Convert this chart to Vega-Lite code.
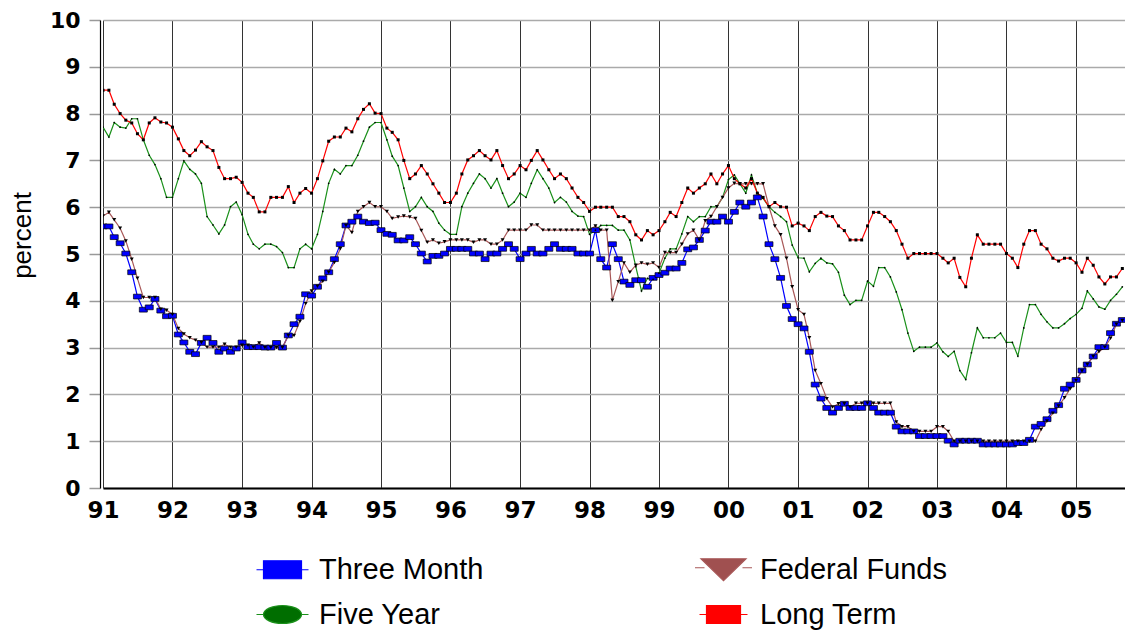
{
  "$schema": "https://vega.github.io/schema/vega-lite/v6.json",
  "width": 1022,
  "height": 468,
  "autosize": {"type": "none"},
  "padding": {"left": 103, "top": 20, "right": 0, "bottom": 144},
  "background": "white",
  "config": {"view": {"stroke": null}, "font": "Liberation Sans"},
  "data": {
    "format": {"parse": {"d": "utc:'%Y-%m'"}},
    "values": [
      {"d":"1991-01","Three Month":5.59,"Five Year":7.71,"Federal Funds":5.81,"Long Term":8.5},
      {"d":"1991-02","Three Month":5.59,"Five Year":7.5,"Federal Funds":5.89,"Long Term":8.5},
      {"d":"1991-03","Three Month":5.36,"Five Year":7.81,"Federal Funds":5.73,"Long Term":8.2},
      {"d":"1991-04","Three Month":5.23,"Five Year":7.71,"Federal Funds":5.55,"Long Term":8.0},
      {"d":"1991-05","Three Month":5.01,"Five Year":7.69,"Federal Funds":5.28,"Long Term":7.86},
      {"d":"1991-06","Three Month":4.61,"Five Year":7.89,"Federal Funds":4.89,"Long Term":7.8},
      {"d":"1991-07","Three Month":4.09,"Five Year":7.89,"Federal Funds":4.48,"Long Term":7.57},
      {"d":"1991-08","Three Month":3.81,"Five Year":7.44,"Federal Funds":4.07,"Long Term":7.44},
      {"d":"1991-09","Three Month":3.86,"Five Year":7.11,"Federal Funds":4.07,"Long Term":7.8},
      {"d":"1991-10","Three Month":4.04,"Five Year":6.91,"Federal Funds":4.07,"Long Term":7.91},
      {"d":"1991-11","Three Month":3.79,"Five Year":6.61,"Federal Funds":3.82,"Long Term":7.82},
      {"d":"1991-12","Three Month":3.67,"Five Year":6.21,"Federal Funds":3.8,"Long Term":7.8},
      {"d":"1992-01","Three Month":3.68,"Five Year":6.21,"Federal Funds":3.71,"Long Term":7.71},
      {"d":"1992-02","Three Month":3.28,"Five Year":6.61,"Federal Funds":3.41,"Long Term":7.46},
      {"d":"1992-03","Three Month":3.11,"Five Year":6.99,"Federal Funds":3.29,"Long Term":7.21},
      {"d":"1992-04","Three Month":2.91,"Five Year":6.81,"Federal Funds":3.21,"Long Term":7.1},
      {"d":"1992-05","Three Month":2.86,"Five Year":6.71,"Federal Funds":3.16,"Long Term":7.22},
      {"d":"1992-06","Three Month":3.1,"Five Year":6.51,"Federal Funds":3.11,"Long Term":7.4},
      {"d":"1992-07","Three Month":3.21,"Five Year":5.8,"Federal Funds":3.01,"Long Term":7.29},
      {"d":"1992-08","Three Month":3.1,"Five Year":5.62,"Federal Funds":3.01,"Long Term":7.21},
      {"d":"1992-09","Three Month":2.91,"Five Year":5.43,"Federal Funds":3.01,"Long Term":6.85},
      {"d":"1992-10","Three Month":2.98,"Five Year":5.62,"Federal Funds":3.07,"Long Term":6.61},
      {"d":"1992-11","Three Month":2.91,"Five Year":6.01,"Federal Funds":3.01,"Long Term":6.61},
      {"d":"1992-12","Three Month":2.98,"Five Year":6.11,"Federal Funds":3.01,"Long Term":6.64},
      {"d":"1993-01","Three Month":3.11,"Five Year":5.84,"Federal Funds":3.05,"Long Term":6.53},
      {"d":"1993-02","Three Month":3.01,"Five Year":5.42,"Federal Funds":3.05,"Long Term":6.3},
      {"d":"1993-03","Three Month":3.01,"Five Year":5.21,"Federal Funds":3.01,"Long Term":6.21},
      {"d":"1993-04","Three Month":3.01,"Five Year":5.11,"Federal Funds":3.1,"Long Term":5.9},
      {"d":"1993-05","Three Month":3.0,"Five Year":5.21,"Federal Funds":3.0,"Long Term":5.9},
      {"d":"1993-06","Three Month":3.0,"Five Year":5.21,"Federal Funds":3.0,"Long Term":6.21},
      {"d":"1993-07","Three Month":3.1,"Five Year":5.16,"Federal Funds":3.0,"Long Term":6.21},
      {"d":"1993-08","Three Month":3.0,"Five Year":5.03,"Federal Funds":3.0,"Long Term":6.21},
      {"d":"1993-09","Three Month":3.26,"Five Year":4.71,"Federal Funds":3.26,"Long Term":6.44},
      {"d":"1993-10","Three Month":3.5,"Five Year":4.71,"Federal Funds":3.26,"Long Term":6.1},
      {"d":"1993-11","Three Month":3.66,"Five Year":5.11,"Federal Funds":3.56,"Long Term":6.3},
      {"d":"1993-12","Three Month":4.14,"Five Year":5.21,"Federal Funds":3.94,"Long Term":6.4},
      {"d":"1994-01","Three Month":4.11,"Five Year":5.11,"Federal Funds":4.21,"Long Term":6.3},
      {"d":"1994-02","Three Month":4.3,"Five Year":5.42,"Federal Funds":4.31,"Long Term":6.61},
      {"d":"1994-03","Three Month":4.48,"Five Year":5.91,"Federal Funds":4.42,"Long Term":6.99},
      {"d":"1994-04","Three Month":4.61,"Five Year":6.51,"Federal Funds":4.61,"Long Term":7.41},
      {"d":"1994-05","Three Month":4.89,"Five Year":6.81,"Federal Funds":4.82,"Long Term":7.5},
      {"d":"1994-06","Three Month":5.21,"Five Year":6.71,"Federal Funds":5.11,"Long Term":7.5},
      {"d":"1994-07","Three Month":5.61,"Five Year":6.89,"Federal Funds":5.61,"Long Term":7.69},
      {"d":"1994-08","Three Month":5.69,"Five Year":6.89,"Federal Funds":5.46,"Long Term":7.61},
      {"d":"1994-09","Three Month":5.8,"Five Year":7.11,"Federal Funds":5.91,"Long Term":7.89},
      {"d":"1994-10","Three Month":5.69,"Five Year":7.41,"Federal Funds":6.01,"Long Term":8.09},
      {"d":"1994-11","Three Month":5.66,"Five Year":7.71,"Federal Funds":6.1,"Long Term":8.21},
      {"d":"1994-12","Three Month":5.67,"Five Year":7.81,"Federal Funds":6.01,"Long Term":8.01},
      {"d":"1995-01","Three Month":5.51,"Five Year":7.81,"Federal Funds":6.01,"Long Term":8.0},
      {"d":"1995-02","Three Month":5.43,"Five Year":7.44,"Federal Funds":5.91,"Long Term":7.69},
      {"d":"1995-03","Three Month":5.41,"Five Year":7.09,"Federal Funds":5.76,"Long Term":7.6},
      {"d":"1995-04","Three Month":5.29,"Five Year":6.89,"Federal Funds":5.79,"Long Term":7.44},
      {"d":"1995-05","Three Month":5.29,"Five Year":6.41,"Federal Funds":5.81,"Long Term":7.0},
      {"d":"1995-06","Three Month":5.36,"Five Year":5.91,"Federal Funds":5.79,"Long Term":6.61},
      {"d":"1995-07","Three Month":5.21,"Five Year":6.01,"Federal Funds":5.76,"Long Term":6.71},
      {"d":"1995-08","Three Month":5.01,"Five Year":6.21,"Federal Funds":5.5,"Long Term":6.89},
      {"d":"1995-09","Three Month":4.84,"Five Year":6.01,"Federal Funds":5.25,"Long Term":6.71},
      {"d":"1995-10","Three Month":4.96,"Five Year":5.91,"Federal Funds":5.3,"Long Term":6.5},
      {"d":"1995-11","Three Month":4.96,"Five Year":5.66,"Federal Funds":5.23,"Long Term":6.3},
      {"d":"1995-12","Three Month":5.01,"Five Year":5.51,"Federal Funds":5.26,"Long Term":6.1},
      {"d":"1996-01","Three Month":5.11,"Five Year":5.42,"Federal Funds":5.3,"Long Term":6.1},
      {"d":"1996-02","Three Month":5.11,"Five Year":5.42,"Federal Funds":5.3,"Long Term":6.3},
      {"d":"1996-03","Three Month":5.11,"Five Year":6.01,"Federal Funds":5.3,"Long Term":6.71},
      {"d":"1996-04","Three Month":5.11,"Five Year":6.3,"Federal Funds":5.3,"Long Term":7.01},
      {"d":"1996-05","Three Month":5.01,"Five Year":6.51,"Federal Funds":5.25,"Long Term":7.1},
      {"d":"1996-06","Three Month":5.01,"Five Year":6.71,"Federal Funds":5.3,"Long Term":7.21},
      {"d":"1996-07","Three Month":4.89,"Five Year":6.61,"Federal Funds":5.3,"Long Term":7.1},
      {"d":"1996-08","Three Month":5.01,"Five Year":6.41,"Federal Funds":5.21,"Long Term":7.01},
      {"d":"1996-09","Three Month":5.01,"Five Year":6.61,"Federal Funds":5.21,"Long Term":7.21},
      {"d":"1996-10","Three Month":5.11,"Five Year":6.3,"Federal Funds":5.3,"Long Term":6.89},
      {"d":"1996-11","Three Month":5.21,"Five Year":6.01,"Federal Funds":5.51,"Long Term":6.61},
      {"d":"1996-12","Three Month":5.11,"Five Year":6.11,"Federal Funds":5.51,"Long Term":6.71},
      {"d":"1997-01","Three Month":4.89,"Five Year":6.3,"Federal Funds":5.51,"Long Term":6.89},
      {"d":"1997-02","Three Month":5.01,"Five Year":6.21,"Federal Funds":5.51,"Long Term":6.8},
      {"d":"1997-03","Three Month":5.11,"Five Year":6.51,"Federal Funds":5.62,"Long Term":7.0},
      {"d":"1997-04","Three Month":5.01,"Five Year":6.8,"Federal Funds":5.62,"Long Term":7.21},
      {"d":"1997-05","Three Month":5.01,"Five Year":6.61,"Federal Funds":5.51,"Long Term":7.01},
      {"d":"1997-06","Three Month":5.11,"Five Year":6.41,"Federal Funds":5.51,"Long Term":6.8},
      {"d":"1997-07","Three Month":5.21,"Five Year":6.1,"Federal Funds":5.51,"Long Term":6.61},
      {"d":"1997-08","Three Month":5.11,"Five Year":6.21,"Federal Funds":5.51,"Long Term":6.71},
      {"d":"1997-09","Three Month":5.11,"Five Year":6.11,"Federal Funds":5.51,"Long Term":6.61},
      {"d":"1997-10","Three Month":5.11,"Five Year":5.91,"Federal Funds":5.51,"Long Term":6.41},
      {"d":"1997-11","Three Month":5.01,"Five Year":5.81,"Federal Funds":5.51,"Long Term":6.21},
      {"d":"1997-12","Three Month":5.01,"Five Year":5.8,"Federal Funds":5.51,"Long Term":6.1},
      {"d":"1998-01","Three Month":5.01,"Five Year":5.42,"Federal Funds":5.51,"Long Term":5.91},
      {"d":"1998-02","Three Month":5.51,"Five Year":5.51,"Federal Funds":5.6,"Long Term":6.0},
      {"d":"1998-03","Three Month":4.89,"Five Year":5.61,"Federal Funds":5.51,"Long Term":6.0},
      {"d":"1998-04","Three Month":4.71,"Five Year":5.61,"Federal Funds":5.51,"Long Term":6.0},
      {"d":"1998-05","Three Month":5.21,"Five Year":5.61,"Federal Funds":4.01,"Long Term":6.0},
      {"d":"1998-06","Three Month":4.89,"Five Year":5.51,"Federal Funds":4.41,"Long Term":5.8},
      {"d":"1998-07","Three Month":4.41,"Five Year":5.51,"Federal Funds":4.81,"Long Term":5.8},
      {"d":"1998-08","Three Month":4.34,"Five Year":5.3,"Federal Funds":4.61,"Long Term":5.69},
      {"d":"1998-09","Three Month":4.44,"Five Year":4.73,"Federal Funds":4.76,"Long Term":5.41},
      {"d":"1998-10","Three Month":4.44,"Five Year":4.21,"Federal Funds":4.81,"Long Term":5.3},
      {"d":"1998-11","Three Month":4.3,"Five Year":4.48,"Federal Funds":4.78,"Long Term":5.5},
      {"d":"1998-12","Three Month":4.49,"Five Year":4.46,"Federal Funds":4.81,"Long Term":5.41},
      {"d":"1999-01","Three Month":4.55,"Five Year":4.59,"Federal Funds":4.71,"Long Term":5.5},
      {"d":"1999-02","Three Month":4.6,"Five Year":4.91,"Federal Funds":5.03,"Long Term":5.69},
      {"d":"1999-03","Three Month":4.69,"Five Year":5.11,"Federal Funds":5.03,"Long Term":5.89},
      {"d":"1999-04","Three Month":4.69,"Five Year":5.11,"Federal Funds":5.03,"Long Term":5.8},
      {"d":"1999-05","Three Month":4.81,"Five Year":5.43,"Federal Funds":5.21,"Long Term":6.1},
      {"d":"1999-06","Three Month":5.1,"Five Year":5.8,"Federal Funds":5.43,"Long Term":6.41},
      {"d":"1999-07","Three Month":5.14,"Five Year":5.69,"Federal Funds":5.51,"Long Term":6.3},
      {"d":"1999-08","Three Month":5.3,"Five Year":5.8,"Federal Funds":5.3,"Long Term":6.41},
      {"d":"1999-09","Three Month":5.5,"Five Year":5.8,"Federal Funds":5.71,"Long Term":6.5},
      {"d":"1999-10","Three Month":5.69,"Five Year":6.01,"Federal Funds":5.8,"Long Term":6.71},
      {"d":"1999-11","Three Month":5.69,"Five Year":6.01,"Federal Funds":6.01,"Long Term":6.5},
      {"d":"1999-12","Three Month":5.8,"Five Year":6.21,"Federal Funds":6.21,"Long Term":6.71},
      {"d":"2000-01","Three Month":5.69,"Five Year":6.59,"Federal Funds":6.41,"Long Term":6.89},
      {"d":"2000-02","Three Month":5.9,"Five Year":6.69,"Federal Funds":6.51,"Long Term":6.61},
      {"d":"2000-03","Three Month":6.1,"Five Year":6.5,"Federal Funds":6.5,"Long Term":6.5},
      {"d":"2000-04","Three Month":6.01,"Five Year":6.3,"Federal Funds":6.5,"Long Term":6.41},
      {"d":"2000-05","Three Month":6.1,"Five Year":6.69,"Federal Funds":6.5,"Long Term":6.61},
      {"d":"2000-06","Three Month":6.21,"Five Year":6.3,"Federal Funds":6.5,"Long Term":6.3},
      {"d":"2000-07","Three Month":5.8,"Five Year":6.19,"Federal Funds":6.5,"Long Term":6.21},
      {"d":"2000-08","Three Month":5.21,"Five Year":6.01,"Federal Funds":6.01,"Long Term":6.01},
      {"d":"2000-09","Three Month":4.89,"Five Year":5.89,"Federal Funds":5.6,"Long Term":6.1},
      {"d":"2000-10","Three Month":4.49,"Five Year":5.8,"Federal Funds":5.41,"Long Term":6.01},
      {"d":"2000-11","Three Month":3.89,"Five Year":5.69,"Federal Funds":4.91,"Long Term":6.0},
      {"d":"2000-12","Three Month":3.61,"Five Year":5.19,"Federal Funds":4.3,"Long Term":5.6},
      {"d":"2001-01","Three Month":3.5,"Five Year":4.92,"Federal Funds":3.81,"Long Term":5.66},
      {"d":"2001-02","Three Month":3.41,"Five Year":4.91,"Federal Funds":3.71,"Long Term":5.6},
      {"d":"2001-03","Three Month":2.91,"Five Year":4.62,"Federal Funds":3.21,"Long Term":5.5},
      {"d":"2001-04","Three Month":2.21,"Five Year":4.8,"Federal Funds":2.51,"Long Term":5.8},
      {"d":"2001-05","Three Month":1.91,"Five Year":4.91,"Federal Funds":2.23,"Long Term":5.89},
      {"d":"2001-06","Three Month":1.71,"Five Year":4.81,"Federal Funds":1.91,"Long Term":5.81},
      {"d":"2001-07","Three Month":1.61,"Five Year":4.79,"Federal Funds":1.73,"Long Term":5.8},
      {"d":"2001-08","Three Month":1.71,"Five Year":4.61,"Federal Funds":1.8,"Long Term":5.6},
      {"d":"2001-09","Three Month":1.8,"Five Year":4.12,"Federal Funds":1.8,"Long Term":5.5},
      {"d":"2001-10","Three Month":1.71,"Five Year":3.92,"Federal Funds":1.73,"Long Term":5.3},
      {"d":"2001-11","Three Month":1.71,"Five Year":4.01,"Federal Funds":1.81,"Long Term":5.3},
      {"d":"2001-12","Three Month":1.71,"Five Year":4.01,"Federal Funds":1.81,"Long Term":5.3},
      {"d":"2002-01","Three Month":1.81,"Five Year":4.42,"Federal Funds":1.81,"Long Term":5.6},
      {"d":"2002-02","Three Month":1.71,"Five Year":4.31,"Federal Funds":1.81,"Long Term":5.89},
      {"d":"2002-03","Three Month":1.61,"Five Year":4.71,"Federal Funds":1.81,"Long Term":5.89},
      {"d":"2002-04","Three Month":1.61,"Five Year":4.71,"Federal Funds":1.81,"Long Term":5.8},
      {"d":"2002-05","Three Month":1.61,"Five Year":4.51,"Federal Funds":1.81,"Long Term":5.69},
      {"d":"2002-06","Three Month":1.31,"Five Year":4.19,"Federal Funds":1.41,"Long Term":5.5},
      {"d":"2002-07","Three Month":1.21,"Five Year":3.81,"Federal Funds":1.31,"Long Term":5.21},
      {"d":"2002-08","Three Month":1.21,"Five Year":3.31,"Federal Funds":1.31,"Long Term":4.91},
      {"d":"2002-09","Three Month":1.21,"Five Year":2.92,"Federal Funds":1.21,"Long Term":5.01},
      {"d":"2002-10","Three Month":1.11,"Five Year":3.01,"Federal Funds":1.21,"Long Term":5.01},
      {"d":"2002-11","Three Month":1.11,"Five Year":3.01,"Federal Funds":1.21,"Long Term":5.01},
      {"d":"2002-12","Three Month":1.11,"Five Year":3.01,"Federal Funds":1.21,"Long Term":5.01},
      {"d":"2003-01","Three Month":1.11,"Five Year":3.1,"Federal Funds":1.31,"Long Term":5.01},
      {"d":"2003-02","Three Month":1.11,"Five Year":2.91,"Federal Funds":1.31,"Long Term":4.91},
      {"d":"2003-03","Three Month":1.01,"Five Year":2.81,"Federal Funds":1.21,"Long Term":4.81},
      {"d":"2003-04","Three Month":0.93,"Five Year":2.92,"Federal Funds":1.0,"Long Term":4.91},
      {"d":"2003-05","Three Month":1.01,"Five Year":2.51,"Federal Funds":1.0,"Long Term":4.5},
      {"d":"2003-06","Three Month":1.01,"Five Year":2.32,"Federal Funds":1.0,"Long Term":4.3},
      {"d":"2003-07","Three Month":1.01,"Five Year":2.89,"Federal Funds":1.0,"Long Term":4.91},
      {"d":"2003-08","Three Month":1.01,"Five Year":3.42,"Federal Funds":1.0,"Long Term":5.41},
      {"d":"2003-09","Three Month":0.93,"Five Year":3.21,"Federal Funds":1.0,"Long Term":5.21},
      {"d":"2003-10","Three Month":0.93,"Five Year":3.21,"Federal Funds":1.0,"Long Term":5.21},
      {"d":"2003-11","Three Month":0.93,"Five Year":3.21,"Federal Funds":1.0,"Long Term":5.21},
      {"d":"2003-12","Three Month":0.93,"Five Year":3.31,"Federal Funds":1.0,"Long Term":5.21},
      {"d":"2004-01","Three Month":0.93,"Five Year":3.11,"Federal Funds":1.0,"Long Term":5.01},
      {"d":"2004-02","Three Month":0.93,"Five Year":3.11,"Federal Funds":1.0,"Long Term":4.91},
      {"d":"2004-03","Three Month":0.96,"Five Year":2.82,"Federal Funds":1.0,"Long Term":4.71},
      {"d":"2004-04","Three Month":0.96,"Five Year":3.42,"Federal Funds":1.0,"Long Term":5.21},
      {"d":"2004-05","Three Month":1.03,"Five Year":3.92,"Federal Funds":1.0,"Long Term":5.5},
      {"d":"2004-06","Three Month":1.31,"Five Year":3.92,"Federal Funds":1.0,"Long Term":5.5},
      {"d":"2004-07","Three Month":1.37,"Five Year":3.71,"Federal Funds":1.25,"Long Term":5.21},
      {"d":"2004-08","Three Month":1.47,"Five Year":3.55,"Federal Funds":1.43,"Long Term":5.11},
      {"d":"2004-09","Three Month":1.65,"Five Year":3.42,"Federal Funds":1.6,"Long Term":4.91},
      {"d":"2004-10","Three Month":1.77,"Five Year":3.42,"Federal Funds":1.75,"Long Term":4.85},
      {"d":"2004-11","Three Month":2.12,"Five Year":3.51,"Federal Funds":1.93,"Long Term":4.91},
      {"d":"2004-12","Three Month":2.21,"Five Year":3.62,"Federal Funds":2.12,"Long Term":4.91},
      {"d":"2005-01","Three Month":2.31,"Five Year":3.71,"Federal Funds":2.3,"Long Term":4.81},
      {"d":"2005-02","Three Month":2.51,"Five Year":3.84,"Federal Funds":2.5,"Long Term":4.61},
      {"d":"2005-03","Three Month":2.64,"Five Year":4.21,"Federal Funds":2.64,"Long Term":4.91},
      {"d":"2005-04","Three Month":2.81,"Five Year":4.04,"Federal Funds":2.81,"Long Term":4.76},
      {"d":"2005-05","Three Month":3.01,"Five Year":3.87,"Federal Funds":2.91,"Long Term":4.51},
      {"d":"2005-06","Three Month":3.01,"Five Year":3.82,"Federal Funds":3.01,"Long Term":4.36},
      {"d":"2005-07","Three Month":3.31,"Five Year":4.01,"Federal Funds":3.2,"Long Term":4.51},
      {"d":"2005-08","Three Month":3.51,"Five Year":4.14,"Federal Funds":3.5,"Long Term":4.51},
      {"d":"2005-09","Three Month":3.59,"Five Year":4.3,"Federal Funds":3.58,"Long Term":4.69}
    ]
  },
  "encoding": {
    "x": {
      "field": "d",
      "type": "temporal",
      "title": null,
      "scale": {
        "type": "utc",
        "domain": [
          {"year": 1991, "month": 1, "date": 1, "utc": true},
          {"year": 2005, "month": 9, "date": 15, "utc": true}
        ]
      },
      "axis": {
        "format": "%y",
        "tickCount": {"interval": "year", "step": 1},
        "grid": true,
        "gridColor": "#333333",
        "gridWidth": 1,
        "ticks": false,
        "tickSize": 0,
        "domain": true,
        "domainColor": "black",
        "domainWidth": 2,
        "labelFont": "DejaVu Sans",
        "labelFontWeight": "bold",
        "labelFontSize": 23,
        "labelColor": "black",
        "labelPadding": 11,
        "labelFlush": false,
        "labelOverlap": false
      }
    },
    "y": {
      "field": "rate",
      "type": "quantitative",
      "title": "percent",
      "scale": {"domain": [0, 10], "nice": false},
      "axis": {
        "values": [0, 1, 2, 3, 4, 5, 6, 7, 8, 9, 10],
        "grid": true,
        "gridColor": "#aaaaaa",
        "gridWidth": 1.5,
        "tickSize": 11,
        "tickColor": "#999999",
        "tickWidth": 1.5,
        "offset": 3,
        "domainColor": "black",
        "domainWidth": 1.2,
        "labelFont": "DejaVu Sans",
        "labelFontWeight": "bold",
        "labelFontSize": 22,
        "labelColor": "black",
        "labelPadding": 9,
        "labelFlush": false,
        "titleFont": "Liberation Sans",
        "titleFontSize": 26,
        "titleFontWeight": "normal",
        "titleColor": "black",
        "titlePadding": 14,
        "titleY": 215
      }
    }
  },
  "layer": [
    {
      "transform": [
        {"fold": ["Three Month", "Five Year", "Federal Funds", "Long Term"], "as": ["series", "rate"]}
      ],
      "mark": {"type": "line", "strokeWidth": 1.2, "clip": true},
      "encoding": {
        "color": {
          "field": "series",
          "type": "nominal",
          "scale": {
            "domain": ["Three Month", "Five Year", "Federal Funds", "Long Term"],
            "range": ["#0000ff", "#1a901a", "#a85858", "#ff0000"]
          },
          "legend": {
            "orient": "none",
            "legendX": 165,
            "legendY": 535,
            "columns": 2,
            "title": null,
            "padding": 0,
            "labelFont": "Liberation Sans",
            "labelFontSize": 29,
            "labelColor": "black",
            "labelLimit": 500,
            "labelOffset": 22,
            "symbolSize": 400,
            "symbolType": "square",
            "columnPadding": 208,
            "rowPadding": 15,
            "encode": {
              "symbols": {
                "update": {
                  "shape": {"signal": "datum.value === 'Three Month' ? 'M-2.6,0H-1.9M1.9,0H2.6M-1.9,-0.9H1.9V0.9H-1.9Z' : datum.value === 'Five Year' ? 'M-2.6,0H-1.9M1.9,0H2.6M-1.9,0A1.9,0.9 0 1,0 1.9,0A1.9,0.9 0 1,0 -1.9,0Z' : datum.value === 'Federal Funds' ? 'M-2.85,-0.2H-1.9M1.9,-0.2H2.85M-2.25,-1.1H2.25L0,1.1Z' : 'M-2.4,0H-1.7M1.7,0H2.4M-1.7,-0.9H1.7V0.9H-1.7Z'"},
                  "fill": {"signal": "datum.value === 'Three Month' ? '#0000ff' : datum.value === 'Five Year' ? '#006e00' : datum.value === 'Federal Funds' ? '#a05050' : '#ff0000'"},
                  "stroke": {"scale": "color", "field": "value"},
                  "strokeWidth": {"value": 1.2},
                  "size": {"value": 400},
                  "opacity": {"value": 1}
                }
              }
            }
          }
        }
      }
    },
    {
      "transform": [
        {"fold": ["Three Month", "Five Year", "Federal Funds", "Long Term"], "as": ["marker", "rate"]}
      ],
      "mark": {"type": "point", "filled": true, "stroke": "black", "opacity": 1, "clip": true},
      "encoding": {
        "shape": {
          "field": "marker",
          "type": "nominal",
          "scale": {
            "domain": ["Long Term", "Federal Funds", "Five Year", "Three Month"],
            "range": ["square", "triangle-down", "circle", "M-1,-0.6H1V0.6H-1Z"]
          },
          "legend": null
        },
        "fill": {
          "field": "marker",
          "type": "nominal",
          "scale": {
            "domain": ["Long Term", "Federal Funds", "Five Year", "Three Month"],
            "range": ["#000000", "#000000", "#000000", "#0000ff"]
          },
          "legend": null
        },
        "size": {
          "field": "marker",
          "type": "nominal",
          "scale": {
            "type": "ordinal",
            "domain": ["Long Term", "Federal Funds", "Five Year", "Three Month"],
            "range": [9, 16, 3, 64]
          },
          "legend": null
        },
        "strokeWidth": {
          "field": "marker",
          "type": "nominal",
          "scale": {
            "type": "ordinal",
            "domain": ["Long Term", "Federal Funds", "Five Year", "Three Month"],
            "range": [0, 0, 0, 0.7]
          },
          "legend": null
        }
      }
    }
  ]
}
